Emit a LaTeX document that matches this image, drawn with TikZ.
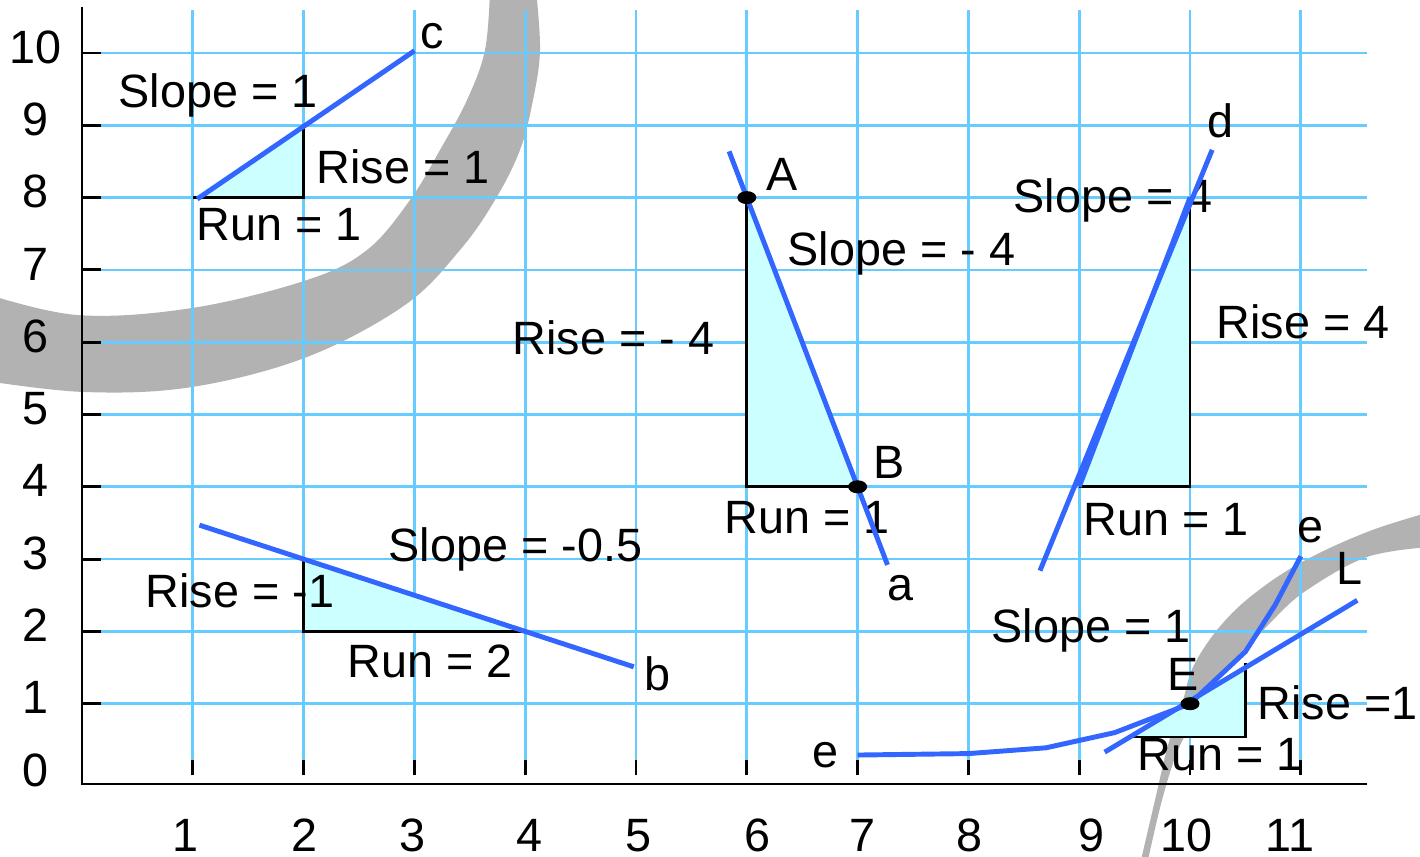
\documentclass[tikz,border=0pt]{standalone}
\usepackage{amsmath}
\usepackage{fontspec}
\setmainfont{Liberation Sans}
\usepackage{tikz}
\definecolor{gridblue}{RGB}{102,204,255}
\definecolor{lineblue}{RGB}{51,102,255}
\definecolor{paleaqua}{RGB}{204,255,255}
\definecolor{brushgray}{RGB}{178,178,178}

\begin{document}
\begin{tikzpicture}[x=1.108cm,y=0.723cm,
        lbl/.style={anchor=base west,inner sep=0pt,font=\fontsize{13.3}{16}\selectfont},
        axlbl/.style={anchor=base,inner sep=0pt,font=\fontsize{13.3}{16}\selectfont},
        gridline/.style={gridblue,line width=0.75pt},
        slopeline/.style={lineblue,line width=1.4pt},
        runrise/.style={black,line width=0.8pt},
        wedge/.style={fill=paleaqua},
        brush/.style={fill=brushgray},
        dot/.style={fill=black}]
    \begin{scope}[shift={(-8.2mm,77.6mm)},x=0.1mm,y=-0.1mm]
        \useasboundingbox (0,0) rectangle (1420,856);
        \fill[brush] plot[smooth,tension=0.6] coordinates {(536,-10) (540,50) (533,100) (520,150) (495,200) (460,250) (405,305) (307,357) (192,387) (84,392) (-20,380)}
            -- plot[smooth,tension=0.6] coordinates {(-20,292) (77,315) (192,308) (307,280) (367,250) (410,200) (440,150) (467,100) (485,50) (490,-10)} -- cycle;
        \fill[brush] plot[smooth,tension=0.6] coordinates {(1430,512) (1367,532) (1300,563) (1250,597) (1217,630) (1193,667) (1183,700) (1168,745) (1155,800) (1141,860)}
            -- plot[smooth,tension=0.6] coordinates {(1148,860) (1162,800) (1178,750) (1198,713) (1213,687) (1240,657) (1273,620) (1307,590) (1367,557) (1430,547)} -- cycle;
    \end{scope}

    \foreach \x in {1,...,11}
        \draw[gridline] (\x,0.03) -- (\x,10.6);
    \foreach \y in {1,...,10}
        \draw[gridline] (0.17,\y) -- (11.6,\y);

    \draw[line width=0.8pt] (0,10.64) -- (0,-0.11) -- (11.6,-0.11);
    \foreach \y in {1,...,10}
        \draw[line width=0.8pt] (0,\y) -- (0.17,\y);
    \foreach \x in {1,...,11}
        \draw[line width=0.8pt] (\x,0.01) -- (\x,0.22);
    \foreach \y in {0,...,10}
        \node[axlbl] (ylab\y) at (-0.424,\y-0.14) {\y};
    \foreach \x/\xpos in {1/0.93,2/2.01,3/2.98,4/4.04,5/5.02,6/6.10,7/7.04,8/8.01,9/9.11,10/9.97,11/10.90}
        \node[axlbl] (xlab\x) at (\xpos,-1.04) {\x};

    \coordinate (A) at (6,8);
    \coordinate (B) at (7,4);
    \coordinate (E) at (10,1);

    \fill[wedge] (1,8) -- (2,8) -- (2,9) -- cycle;
    \fill[wedge] (A) -- (6,4) -- (B) -- cycle;
    \fill[wedge] (9,4) -- (10,4) -- (10,8) -- cycle;
    \fill[wedge] (2,3) -- (2,2) -- (4,2) -- cycle;
    \fill[wedge] (9.45,0.54) -- (10.5,0.54) -- (10.5,1.5) -- cycle;

    \node[lbl] (slopeC) at (0.325,9.24) {Slope = 1};
    \node[lbl] (riseC) at (2.112,8.20) {Rise = 1};
    \node[lbl] (runC) at (1.029,7.40) {Run = 1};
    \node[lbl] (labc) at (3.05,10.06) {c};
    \node[lbl] (labA) at (6.173,8.105) {A};
    \node[lbl] (labB) at (7.139,4.108) {B};
    \node[lbl] (laba) at (7.265,2.434) {a};
    \node[lbl] (slopeA) at (6.363,7.054) {Slope = - 4};
    \node[lbl] (riseA) at (3.881,5.823) {Rise = - 4};
    \node[lbl] (runA) at (5.794,3.361) {Run = 1};
    \node[lbl] (labd) at (10.153,8.838) {d};
    \node[lbl] (slopeD) at (8.403,7.787) {Slope = 4};
    \node[lbl] (riseD) at (10.235,6.058) {Rise = 4};
    \node[lbl] (runD) at (9.034,3.333) {Run = 1};
    \node[lbl] (labe) at (10.966,3.223) {e};
    \node[lbl] (labL) at (11.318,2.642) {L};
    \node[lbl] (labE) at (9.792,1.189) {E};
    \node[lbl] (riseE) at (10.605,0.788) {Rise =1};
    \node[lbl] (runE) at (9.522,0.083) {Run = 1};
    \node[lbl] (slopeE) at (8.204,1.853) {Slope = 1};
    \node[lbl] (labee) at (6.588,0.124) {e};
    \node[lbl] (slopeB) at (2.762,2.96) {Slope = -0.5};
    \node[lbl] (riseB) at (0.569,2.324) {Rise = -1};
    \node[lbl] (runB) at (2.392,1.369) {Run = 2};
    \node[lbl] (labb) at (5.072,1.176) {b};

    \draw[runrise] (1,8) -- (2,8) -- (2,9);
    \draw[runrise] (A) -- (6,4) -- (B);
    \draw[runrise] (9,4) -- (10,4) -- (10,8);
    \draw[runrise] (2,3) -- (2,2) -- (4,2);
    \draw[runrise] (9.45,0.54) -- (10.5,0.54) -- (10.5,1.56);

    \draw[slopeline] (1.04,7.98) -- (3,10.03);
    \draw[slopeline] (5.84,8.64) -- (7.27,2.92);
    \draw[slopeline] (9,4) -- (10,8);
    \draw[slopeline] (8.646,2.84) -- (10.2,8.66);
    \draw[slopeline] (1.06,3.47) -- (4.98,1.51);
    \draw[slopeline,line join=round] (7,0.29) -- (8,0.31) -- (8.7,0.39) -- (9.32,0.6) -- (E) -- (10.5,1.72) -- (10.77,2.37) -- (11,3.04);
    \draw[slopeline] (9.23,0.33) -- (11.51,2.43);

    \fill[dot] (A) ellipse (0.95mm and 0.65mm);
    \fill[dot] (B) ellipse (0.95mm and 0.65mm);
    \fill[dot] (E) ellipse (0.95mm and 0.65mm);
\end{tikzpicture}
\end{document}
